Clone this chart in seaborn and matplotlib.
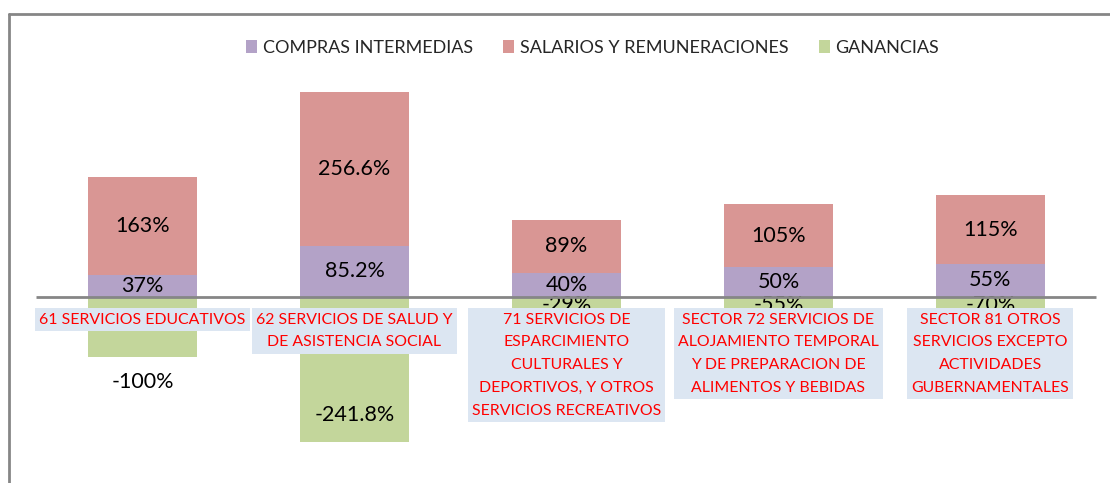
import matplotlib
matplotlib.use("Agg")
import matplotlib.pyplot as plt
from matplotlib.patches import Patch
from matplotlib.lines import Line2D
import seaborn as sns
import pandas as pd

categories = [
    "61 SERVICIOS EDUCATIVOS",
    "62 SERVICIOS DE SALUD Y\nDE ASISTENCIA SOCIAL",
    "71 SERVICIOS DE\nESPARCIMIENTO\nCULTURALES Y\nDEPORTIVOS, Y OTROS\nSERVICIOS RECREATIVOS",
    "SECTOR 72 SERVICIOS DE\nALOJAMIENTO TEMPORAL\nY DE PREPARACION DE\nALIMENTOS Y BEBIDAS",
    "SECTOR 81 OTROS\nSERVICIOS EXCEPTO\nACTIVIDADES\nGUBERNAMENTALES",
]
compras = [37, 85.2, 40, 50, 55]
salarios = [163, 256.6, 89, 105, 115]
ganancias = [-100, -241.8, -29, -55, -70]
compras_lbl = ["37%", "85.2%", "40%", "50%", "55%"]
salarios_lbl = ["163%", "256.6%", "89%", "105%", "115%"]
ganancias_lbl = ["-100%", "-241.8%", "-29%", "-55%", "-70%"]
series_names = ["COMPRAS INTERMEDIAS", "SALARIOS Y REMUNERACIONES", "GANANCIAS"]

C_PUR = "#b3a2c7"
C_RED = "#d99694"
C_GRN = "#c3d69b"

sns.set_style("white")
plt.rcParams["font.family"] = ["Lato", "DejaVu Sans"]

df = pd.DataFrame({
    "cat": categories,
    "compras": compras,
    "salarios": salarios,
    "ganancias": ganancias,
})
df["total"] = df["compras"] + df["salarios"]

fig = plt.figure(figsize=(11.1, 4.83), dpi=100)
ax = fig.add_axes([0, 0, 1, 1])
W = 0.514
sns.barplot(data=df, x="cat", y="total", color=C_RED, width=W, ax=ax,
            saturation=1, linewidth=0, errorbar=None)
sns.barplot(data=df, x="cat", y="compras", color=C_PUR, width=W, ax=ax,
            saturation=1, linewidth=0, errorbar=None)
sns.barplot(data=df, x="cat", y="ganancias", color=C_GRN, width=W, ax=ax,
            saturation=1, linewidth=0, errorbar=None)

ax.set_xlim(-0.672, 4.564)
ax.set_ylim(-310, 495)
ax.axis("off")

# zero axis line
ax.plot([-0.5, 4.5], [0, 0], color="#868686", lw=2, zorder=3, solid_capstyle="butt")

# value labels
fs_val = 15.5
for i in range(len(categories)):
    ax.text(i, compras[i] / 2, compras_lbl[i], ha="center", va="center",
            fontsize=fs_val, color="black", zorder=2.5)
    ax.text(i, compras[i] + salarios[i] / 2, salarios_lbl[i], ha="center",
            va="center", fontsize=fs_val, color="black", zorder=2.5)
gan_y = [-142, -197, -13, -13, -13]
for i in range(len(categories)):
    ax.text(i, gan_y[i], ganancias_lbl[i], ha="center", va="center",
            fontsize=fs_val, color="black", zorder=2.5)

# category labels
for i, c in enumerate(categories):
    ax.text(i, -26, c, ha="center", va="top", fontsize=11.4, color="#ff0000",
            linespacing=1.8, zorder=5,
            bbox=dict(facecolor="#dce6f2", edgecolor="none", pad=3))

handles = [Patch(facecolor=C_PUR, edgecolor="none"),
           Patch(facecolor=C_RED, edgecolor="none"),
           Patch(facecolor=C_GRN, edgecolor="none")]
fig.legend(handles, series_names, loc="center", bbox_to_anchor=(0.534, 1 - 48 / 483),
           ncol=3, frameon=False, fontsize=13, handlelength=0.6,
           handleheight=0.7, handletextpad=0.3, columnspacing=1.7)

# chart border (top & left)
fig.add_artist(Line2D([8.5 / 1110, 1.0], [1 - 13.5 / 483, 1 - 13.5 / 483],
                      color="#868686", lw=2, transform=fig.transFigure))
fig.add_artist(Line2D([8.5 / 1110, 8.5 / 1110], [1 - 13.5 / 483, 0],
                      color="#868686", lw=2, transform=fig.transFigure))

fig.savefig("out.png", dpi=100)
